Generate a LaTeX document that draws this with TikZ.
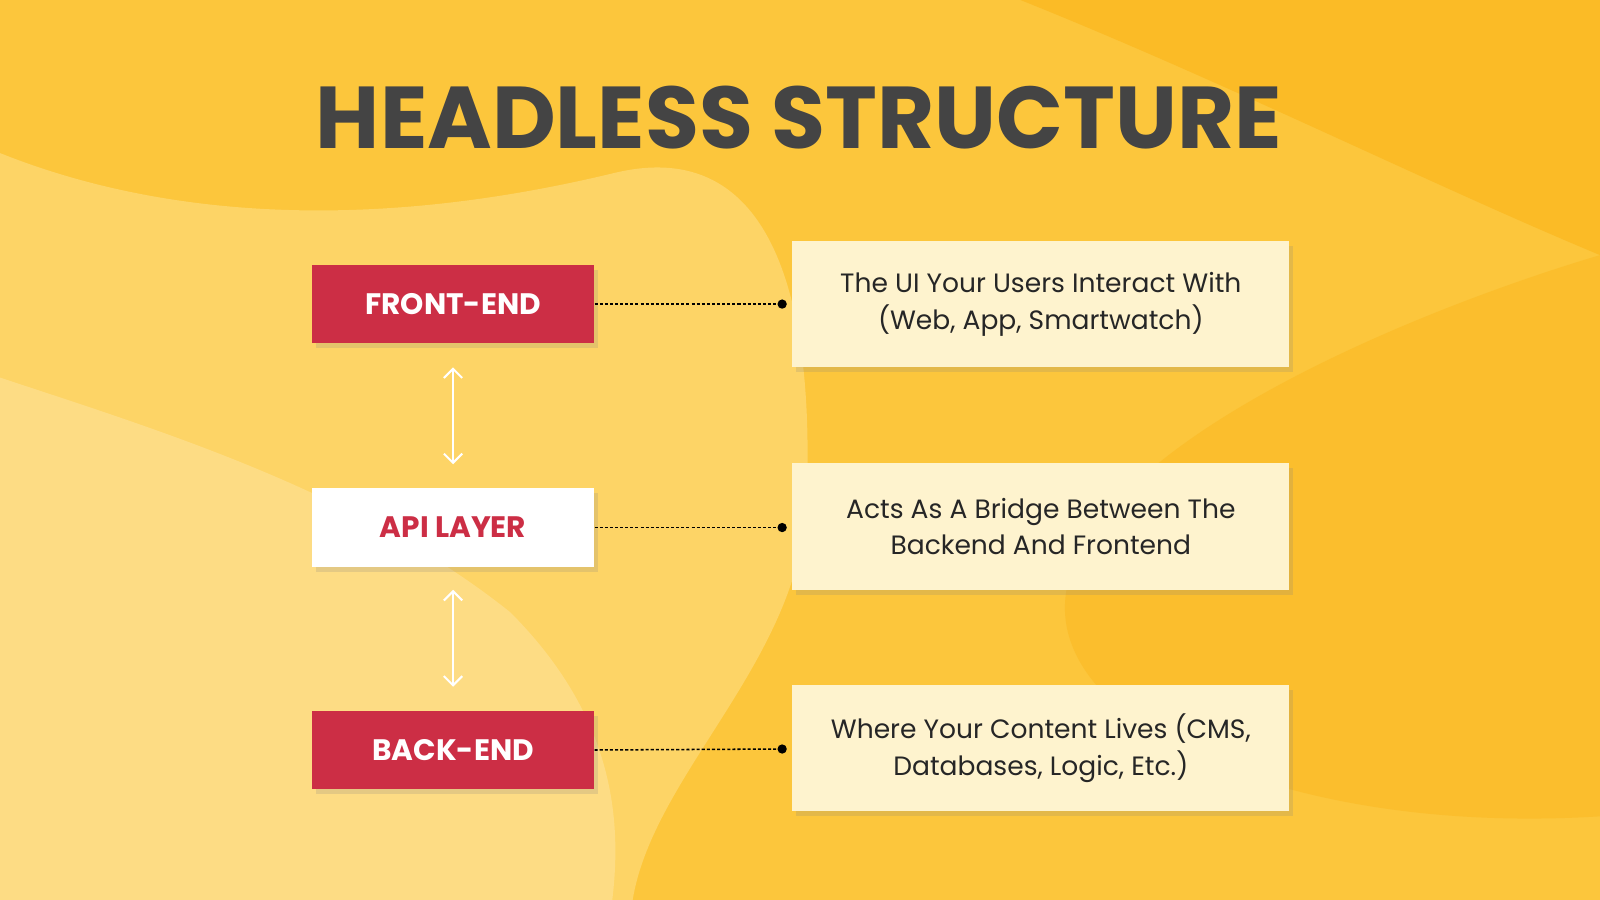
\documentclass[tikz,border=0pt]{standalone}
\usepackage{fontspec}
\setmainfont{Poppins}
\usetikzlibrary{arrows.meta,shadows}
\definecolor{bgA}{HTML}{FCC63C}
\definecolor{bgL}{HTML}{FDD466}
\definecolor{bgD}{HTML}{FBBB26}
\definecolor{redb}{HTML}{CC2E45}
\definecolor{cream}{HTML}{FEF3CE}
\definecolor{titlec}{HTML}{444444}
\tikzset{
  layer/.style={minimum width=277pt,minimum height=77pt,inner sep=0pt,font=\fontsize{29}{34}\selectfont\bfseries,drop shadow={shadow xshift=4pt,shadow yshift=-5pt,opacity=0.2}},
  desc/.style={fill=cream,minimum width=487pt,minimum height=124pt,inner sep=0pt,align=center,font=\fontsize{26}{36}\selectfont,text=black!85,drop shadow={shadow xshift=4pt,shadow yshift=-5pt,opacity=0.2}},
  link/.style={dash pattern=on 3pt off 2pt,line width=1.5pt,-{Circle[length=9pt]}},
  updown/.style={white,line width=2pt,{Straight Barb[length=9pt,width=18pt]}-{Straight Barb[length=9pt,width=18pt]}}
}
\begin{document}
\begin{tikzpicture}[x=1pt,y=-1pt]
\useasboundingbox (0,0) rectangle (1568,882);
\fill[bgA] (0,0) rectangle (1568,882);
\fill[bgL] (0,150) .. controls (150,210) and (350,230) .. (600,170) .. controls (760,130) and (800,300) .. (790,500) .. controls (780,650) and (640,760) .. (620,882) -- (0,882) -- cycle;
\fill[bgL!60!white,opacity=0.5] (0,370) .. controls (150,420) and (350,480) .. (500,600) .. controls (600,700) and (610,800) .. (600,882) -- (0,882) -- cycle;
\fill[bgD] (1000,0) .. controls (1200,80) and (1400,180) .. (1568,250) -- (1568,0) -- cycle;
\fill[bgD!70!bgA] (1568,250) .. controls (1400,300) and (1100,420) .. (1050,560) .. controls (1000,700) and (1250,820) .. (1568,800) -- cycle;
\node[font=\fontsize{86}{90}\selectfont\bfseries,text=titlec] (title) at (783,115) {HEADLESS STRUCTURE};
\node[layer,fill=redb,text=white] (fe) at (444,298) {FRONT-END};
\node[layer,fill=white,text=redb] (api) at (444,517) {API LAYER};
\node[layer,fill=redb,text=white] (be) at (444,735) {BACK-END};
\node[desc] (d1) at (1020,298) {The UI Your Users Interact With\\(Web, App, Smartwatch)};
\node[desc] (d2) at (1020,516) {Acts As A Bridge Between The\\Backend And Frontend};
\node[desc] (d3) at (1020,733) {Where Your Content Lives (CMS,\\Databases, Logic, Etc.)};
\coordinate (e1) at (771,298);
\coordinate (e2) at (771,517);
\coordinate (e3) at (771,734);
\draw[link] (fe.east) -- (e1);
\draw[link] (api.east) -- (e2);
\draw[link] (be.east) -- (e3);
\coordinate (a1) at (444,360); \coordinate (a2) at (444,455);
\coordinate (b1) at (444,578); \coordinate (b2) at (444,673);
\draw[updown] (a1) -- (a2);
\draw[updown] (b1) -- (b2);
\end{tikzpicture}
\end{document}
